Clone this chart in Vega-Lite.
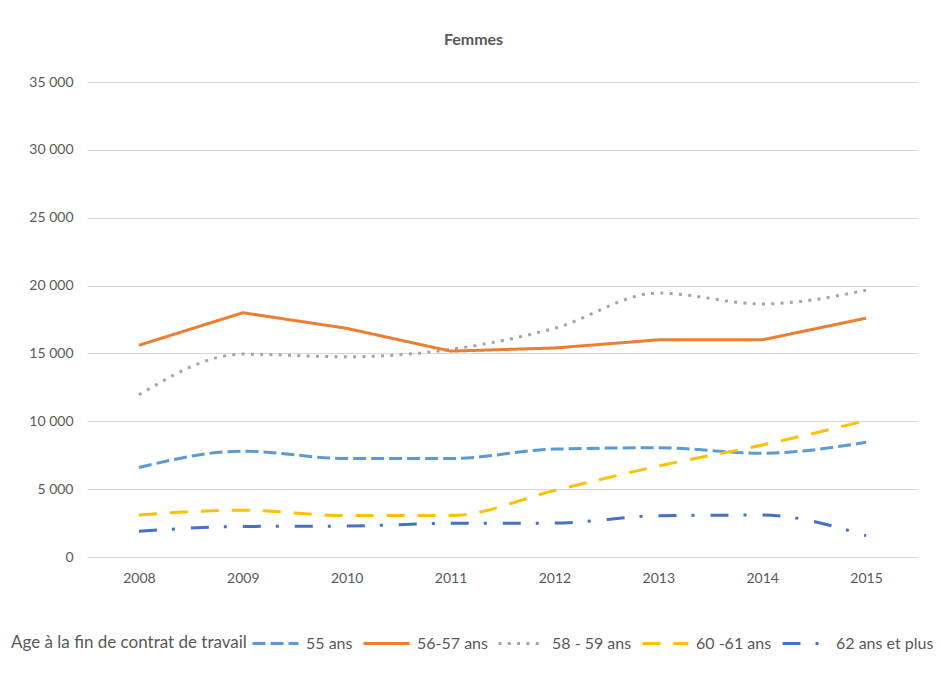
{
  "$schema": "https://vega.github.io/schema/vega-lite/v6.json",
  "width": 831,
  "height": 475,
  "autosize": {"type": "none"},
  "padding": {"left": 87, "top": 82, "right": 23, "bottom": 122},
  "background": "white",
  "config": {
    "locale": {"number": {"decimal": ",", "thousands": " ", "grouping": [3], "currency": ["", " €"]}},
    "font": "Lato",
    "view": {"stroke": null},
    "legend": {
      "orient": "none",
      "legendX": -76,
      "legendY": 537,
      "direction": "horizontal",
      "gridAlign": "none",
      "titleOrient": "left",
      "titleAnchor": "middle",
      "titleBaseline": "top",
      "titleFontSize": 17,
      "titleFontWeight": "normal",
      "titleColor": "#595959",
      "titleLimit": 400,
      "titlePadding": 4,
      "labelFontSize": 16,
      "labelColor": "#595959",
      "labelLimit": 200,
      "labelOffset": 6,
      "columnPadding": 4,
      "symbolType": "stroke",
      "symbolSize": 2116,
      "symbolStrokeWidth": 3
    }
  },
  "title": {"text": "Femmes", "fontSize": 16, "fontWeight": "bold", "color": "#595959", "anchor": "middle", "dx": -29, "offset": 27},
  "data": {"values": [
    {"year": "2008", "series": "55 ans", "value": 6600},
    {"year": "2009", "series": "55 ans", "value": 7800},
    {"year": "2010", "series": "55 ans", "value": 7250},
    {"year": "2011", "series": "55 ans", "value": 7250},
    {"year": "2012", "series": "55 ans", "value": 7950},
    {"year": "2013", "series": "55 ans", "value": 8050},
    {"year": "2014", "series": "55 ans", "value": 7650},
    {"year": "2015", "series": "55 ans", "value": 8450},
    {"year": "2008", "series": "56-57 ans", "value": 15600},
    {"year": "2009", "series": "56-57 ans", "value": 18000},
    {"year": "2010", "series": "56-57 ans", "value": 16850},
    {"year": "2011", "series": "56-57 ans", "value": 15170},
    {"year": "2012", "series": "56-57 ans", "value": 15400},
    {"year": "2013", "series": "56-57 ans", "value": 16000},
    {"year": "2014", "series": "56-57 ans", "value": 16000},
    {"year": "2015", "series": "56-57 ans", "value": 17600},
    {"year": "2008", "series": "58 - 59 ans", "value": 11950},
    {"year": "2009", "series": "58 - 59 ans", "value": 14950},
    {"year": "2010", "series": "58 - 59 ans", "value": 14750},
    {"year": "2011", "series": "58 - 59 ans", "value": 15300},
    {"year": "2012", "series": "58 - 59 ans", "value": 16850},
    {"year": "2013", "series": "58 - 59 ans", "value": 19450},
    {"year": "2014", "series": "58 - 59 ans", "value": 18650},
    {"year": "2015", "series": "58 - 59 ans", "value": 19650},
    {"year": "2008", "series": "60 -61 ans", "value": 3100},
    {"year": "2009", "series": "60 -61 ans", "value": 3450},
    {"year": "2010", "series": "60 -61 ans", "value": 3050},
    {"year": "2011", "series": "60 -61 ans", "value": 3050},
    {"year": "2012", "series": "60 -61 ans", "value": 4900},
    {"year": "2013", "series": "60 -61 ans", "value": 6700},
    {"year": "2014", "series": "60 -61 ans", "value": 8250},
    {"year": "2015", "series": "60 -61 ans", "value": 10050},
    {"year": "2008", "series": "62 ans et plus", "value": 1900},
    {"year": "2009", "series": "62 ans et plus", "value": 2250},
    {"year": "2010", "series": "62 ans et plus", "value": 2280},
    {"year": "2011", "series": "62 ans et plus", "value": 2480},
    {"year": "2012", "series": "62 ans et plus", "value": 2500},
    {"year": "2013", "series": "62 ans et plus", "value": 3040},
    {"year": "2014", "series": "62 ans et plus", "value": 3090},
    {"year": "2015", "series": "62 ans et plus", "value": 1570}
  ]},
  "encoding": {
    "x": {
      "field": "year", "type": "ordinal",
      "scale": {"type": "point", "padding": 0.5},
      "axis": {"title": null, "labelAngle": 0, "labelFontSize": 14, "labelColor": "#595959", "domain": false, "ticks": false, "grid": false, "labelPadding": 14}
    },
    "y": {
      "field": "value", "type": "quantitative",
      "scale": {"domain": [0, 35000]},
      "axis": {"title": null, "values": [0, 5000, 10000, 15000, 20000, 25000, 30000, 35000], "format": ",.0f", "labelFontSize": 14, "labelColor": "#595959", "domain": false, "ticks": false, "grid": true, "gridColor": "#D9D9D9", "gridWidth": 1, "labelPadding": 14}
    },
    "color": {
      "field": "series", "type": "nominal",
      "title": "Age à la fin de contrat de travail",
      "scale": {"domain": ["55 ans", "56-57 ans", "58 - 59 ans", "60 -61 ans", "62 ans et plus"], "range": ["#5B9BD5", "#ED7D31", "#A5A5A5", "#FFC000", "#4472C4"]}
    },
    "strokeDash": {
      "field": "series", "type": "nominal",
      "title": "Age à la fin de contrat de travail",
      "scale": {"domain": ["55 ans", "56-57 ans", "58 - 59 ans", "60 -61 ans", "62 ans et plus"], "range": [[13, 5], [1, 0], [3, 6.3], [18, 13], [18, 15, 3, 16]]}
    }
  },
  "layer": [
    {
      "transform": [{"filter": "datum.series !== '56-57 ans'"}],
      "mark": {"type": "line", "interpolate": "monotone", "strokeWidth": 3}
    },
    {
      "transform": [{"filter": "datum.series === '56-57 ans'"}],
      "mark": {"type": "line", "strokeWidth": 3}
    }
  ]
}
